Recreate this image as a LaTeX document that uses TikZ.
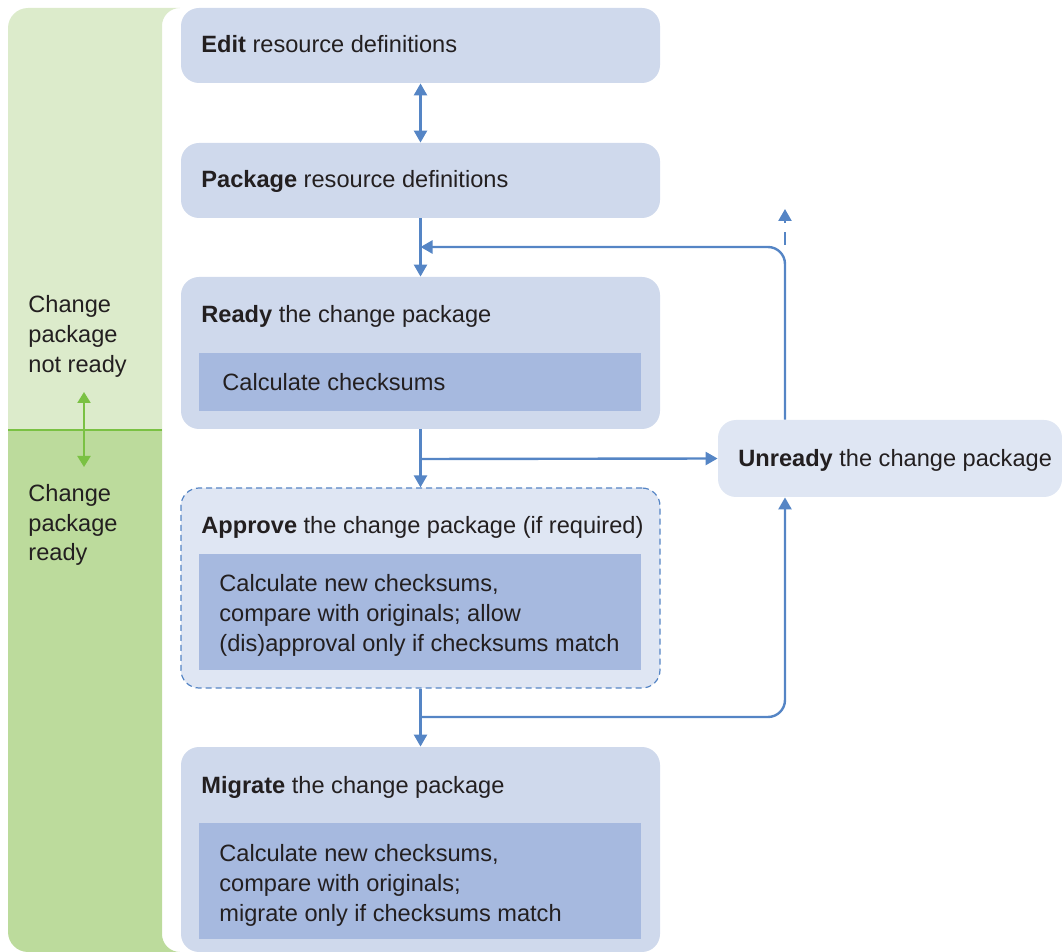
\documentclass[tikz,border=0pt]{standalone}
\usepackage{fontspec}
\setmainfont{Liberation Sans}
\usetikzlibrary{arrows.meta,positioning}

\definecolor{gtop}{HTML}{DCEBCB}
\definecolor{gbot}{HTML}{BCDB9C}
\definecolor{gline}{HTML}{7AC143}
\definecolor{boxblue}{HTML}{CFD9EC}
\definecolor{paleblue}{HTML}{DFE6F3}
\definecolor{innerblue}{HTML}{A6B9DF}
\definecolor{arrblue}{HTML}{5585C5}
\definecolor{ink}{HTML}{231F20}

\begin{document}
\begin{tikzpicture}
  [
    x=.5pt, y=-.5pt,
    line join=round,
    box/.style={fill=boxblue, rounded corners=9pt, minimum width=239.5pt, inner sep=0pt},
    inbox/.style={fill=innerblue, minimum width=221pt, inner sep=0pt},
    txt/.style={anchor=base west, inner sep=0pt, align=left, text=ink,
      font=\fontsize{11.8}{15}\selectfont},
    arr/.style={draw=arrblue, line width=1.2pt, -{Triangle[length=6pt,width=6.5pt]}},
    garr/.style={draw=gline, line width=1.1pt,
      {Triangle[length=5.5pt,width=6.5pt]}-{Triangle[length=5.5pt,width=6.5pt]}},
  ]
\useasboundingbox (0,0) rectangle (1062,952);

% status band
\fill[gtop] (8,430) -- (8,28) .. controls (8,17) and (17,8) .. (28,8)
  -- (180,8) .. controls (170,8) and (162,16) .. (162,26) -- (162,430) -- cycle;
\fill[gbot] (8,430) -- (8,932) .. controls (8,943) and (17,952) .. (28,952)
  -- (180,952) .. controls (170,952) and (162,944) .. (162,934) -- (162,430) -- cycle;
\draw[gline, line width=1pt] (8,430) -- (162,430);

% multi-line texts sit on their last baseline
\node[txt] (notready) at (28,373) {Change\\package\\not ready};
\node[txt] (isready) at (28,561) {Change\\package\\ready};
\coordinate (gup) at (84,392);
\coordinate (gdown) at (84,467);
\draw[garr] (gup) -- (gdown);

% steps
\node[box, minimum height=37.5pt] (edit) at (420.5,45.5) {};
\node[txt] (edit-t) at (201,53) {\textbf{Edit} resource definitions};

\node[box, minimum height=37.5pt] (pkg) at (420.5,180.5) {};
\node[txt] (pkg-t) at (201,188) {\textbf{Package} resource definitions};

\node[box, minimum height=76pt] (ready) at (420.5,353) {};
\node[txt] (ready-t) at (201,323) {\textbf{Ready} the change package};
\node[inbox, minimum height=29pt] (ready-in) at (420,382) {};
\node[txt] (ready-c) at (222,391) {Calculate checksums};

\node[box, fill=paleblue, draw=arrblue, line width=.6pt, dash pattern=on 3pt off 2pt,
  minimum height=100pt] (appr) at (420.5,588) {};
\node[txt] (appr-t) at (201,534) {\textbf{Approve} the change package (if required)};
\node[inbox, minimum height=58pt] (appr-in) at (419.5,612) {};
\node[txt] (appr-c) at (219,652)
  {Calculate new checksums,\\compare with originals; allow\\(dis)approval only if checksums match};

\node[box, minimum height=102.5pt] (migr) at (420.5,849.5) {};
\node[txt] (migr-t) at (201,793) {\textbf{Migrate} the change package};
\node[inbox, minimum height=58pt] (migr-in) at (420,881) {};
\node[txt] (migr-c) at (219,921)
  {Calculate new checksums,\\compare with originals;\\migrate only if checksums match};

\node[box, fill=paleblue, minimum width=172pt, minimum height=38.5pt] (unready) at (890,458.5) {};
\node[txt] (unready-t) at (738,467) {\textbf{Unready} the change package};

% flow
\draw[arr, {Triangle[length=6pt,width=6.5pt]}-{Triangle[length=6pt,width=6.5pt]}]
  (edit.south) -- (pkg.north);
\draw[arr] (pkg.south) -- (ready.north);
\draw[arr] (ready.south) -- (appr.north);
\draw[arr] (appr.south) -- (migr.north);

\coordinate (split1) at (420.5,459);
\coordinate (split2) at (420.5,717);
\coordinate (merge) at (420.5,247);
\coordinate (loopx) at (785,0);
\coordinate (loopcut) at (785,253);
\coordinate (loopend) at (785,209);

\draw[arr] (split1) -- (unready.west);
\draw[arr, rounded corners=8.5pt] (split2) -| (loopx |- unready.south);
\draw[arr, rounded corners=8.5pt] (loopx |- unready.north) |- (merge);
\draw[arr, dash pattern=on 6.5pt off 4.5pt, dash phase=7pt] (loopcut) -- (loopend);

\end{tikzpicture}
\end{document}
